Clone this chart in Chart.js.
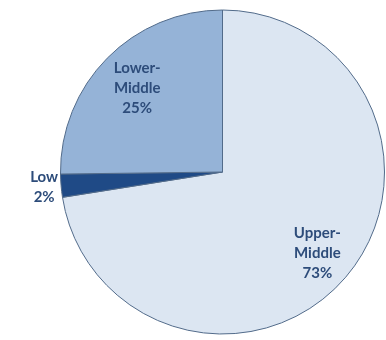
<!DOCTYPE html>
<html>
<head>
<meta charset="utf-8">
<script src="https://cdn.jsdelivr.net/npm/chart.js@4/dist/chart.umd.min.js"></script>
<style>
  html, body { margin: 0; padding: 0; background: #fff; }
  #wrap { width: 386px; height: 340px; }
</style>
</head>
<body>
<div id="wrap"><canvas id="mycanvas" width="386" height="340"></canvas></div>
<script>
// slices go clockwise from 12 o'clock
var categories = ["Upper-Middle", "Low", "Lower-Middle"];
var shares = [72.5, 2.3, 25.2];
var labelLines = [["Upper-", "Middle", "73%"], ["Low", "2%"], ["Lower-", "Middle", "25%"]];
var colors = ["#dce6f2", "#1f4a86", "#95b3d7"];

// where each label sits, as a fraction of the radius
var labelDist = [0.77, 1.105, 0.74];

var pieLabels = {
  id: 'pieLabels',
  afterDatasetsDraw: function(chart) {
    var ctx = chart.ctx;
    var arcs = chart.getDatasetMeta(0).data;
    ctx.save();
    ctx.font = 'bold 15px Lato';
    ctx.fillStyle = '#2d4c7a';
    ctx.textAlign = 'center';
    ctx.textBaseline = 'middle';
    for (var i = 0; i < arcs.length; i++) {
      var a = arcs[i];
      var mid = (a.startAngle + a.endAngle) / 2;
      var r = a.outerRadius * labelDist[i];
      var x = a.x + Math.cos(mid) * r;
      var y = a.y + Math.sin(mid) * r;
      var lines = labelLines[i];
      var lh = 20;
      for (var j = 0; j < lines.length; j++) {
        ctx.fillText(lines[j], x, y + (j - (lines.length - 1) / 2) * lh);
      }
    }
    ctx.restore();
  }
};

var chartdata = {
  labels: categories,
  datasets: [{
    data: shares,
    backgroundColor: colors,
    borderColor: '#526b8a',
    borderWidth: 1,
    hoverOffset: 0
  }]
};

var ctx = document.getElementById('mycanvas');
var pie = new Chart(ctx, {
  type: 'pie',
  data: chartdata,
  options: {
    responsive: false,
    animation: false,
    layout: { padding: { left: 60, right: 1, top: 9, bottom: 5 } },
    plugins: {
      legend: { display: false },
      tooltip: { enabled: false }
    }
  },
  plugins: [pieLabels]
});
</script>
</body>
</html>
